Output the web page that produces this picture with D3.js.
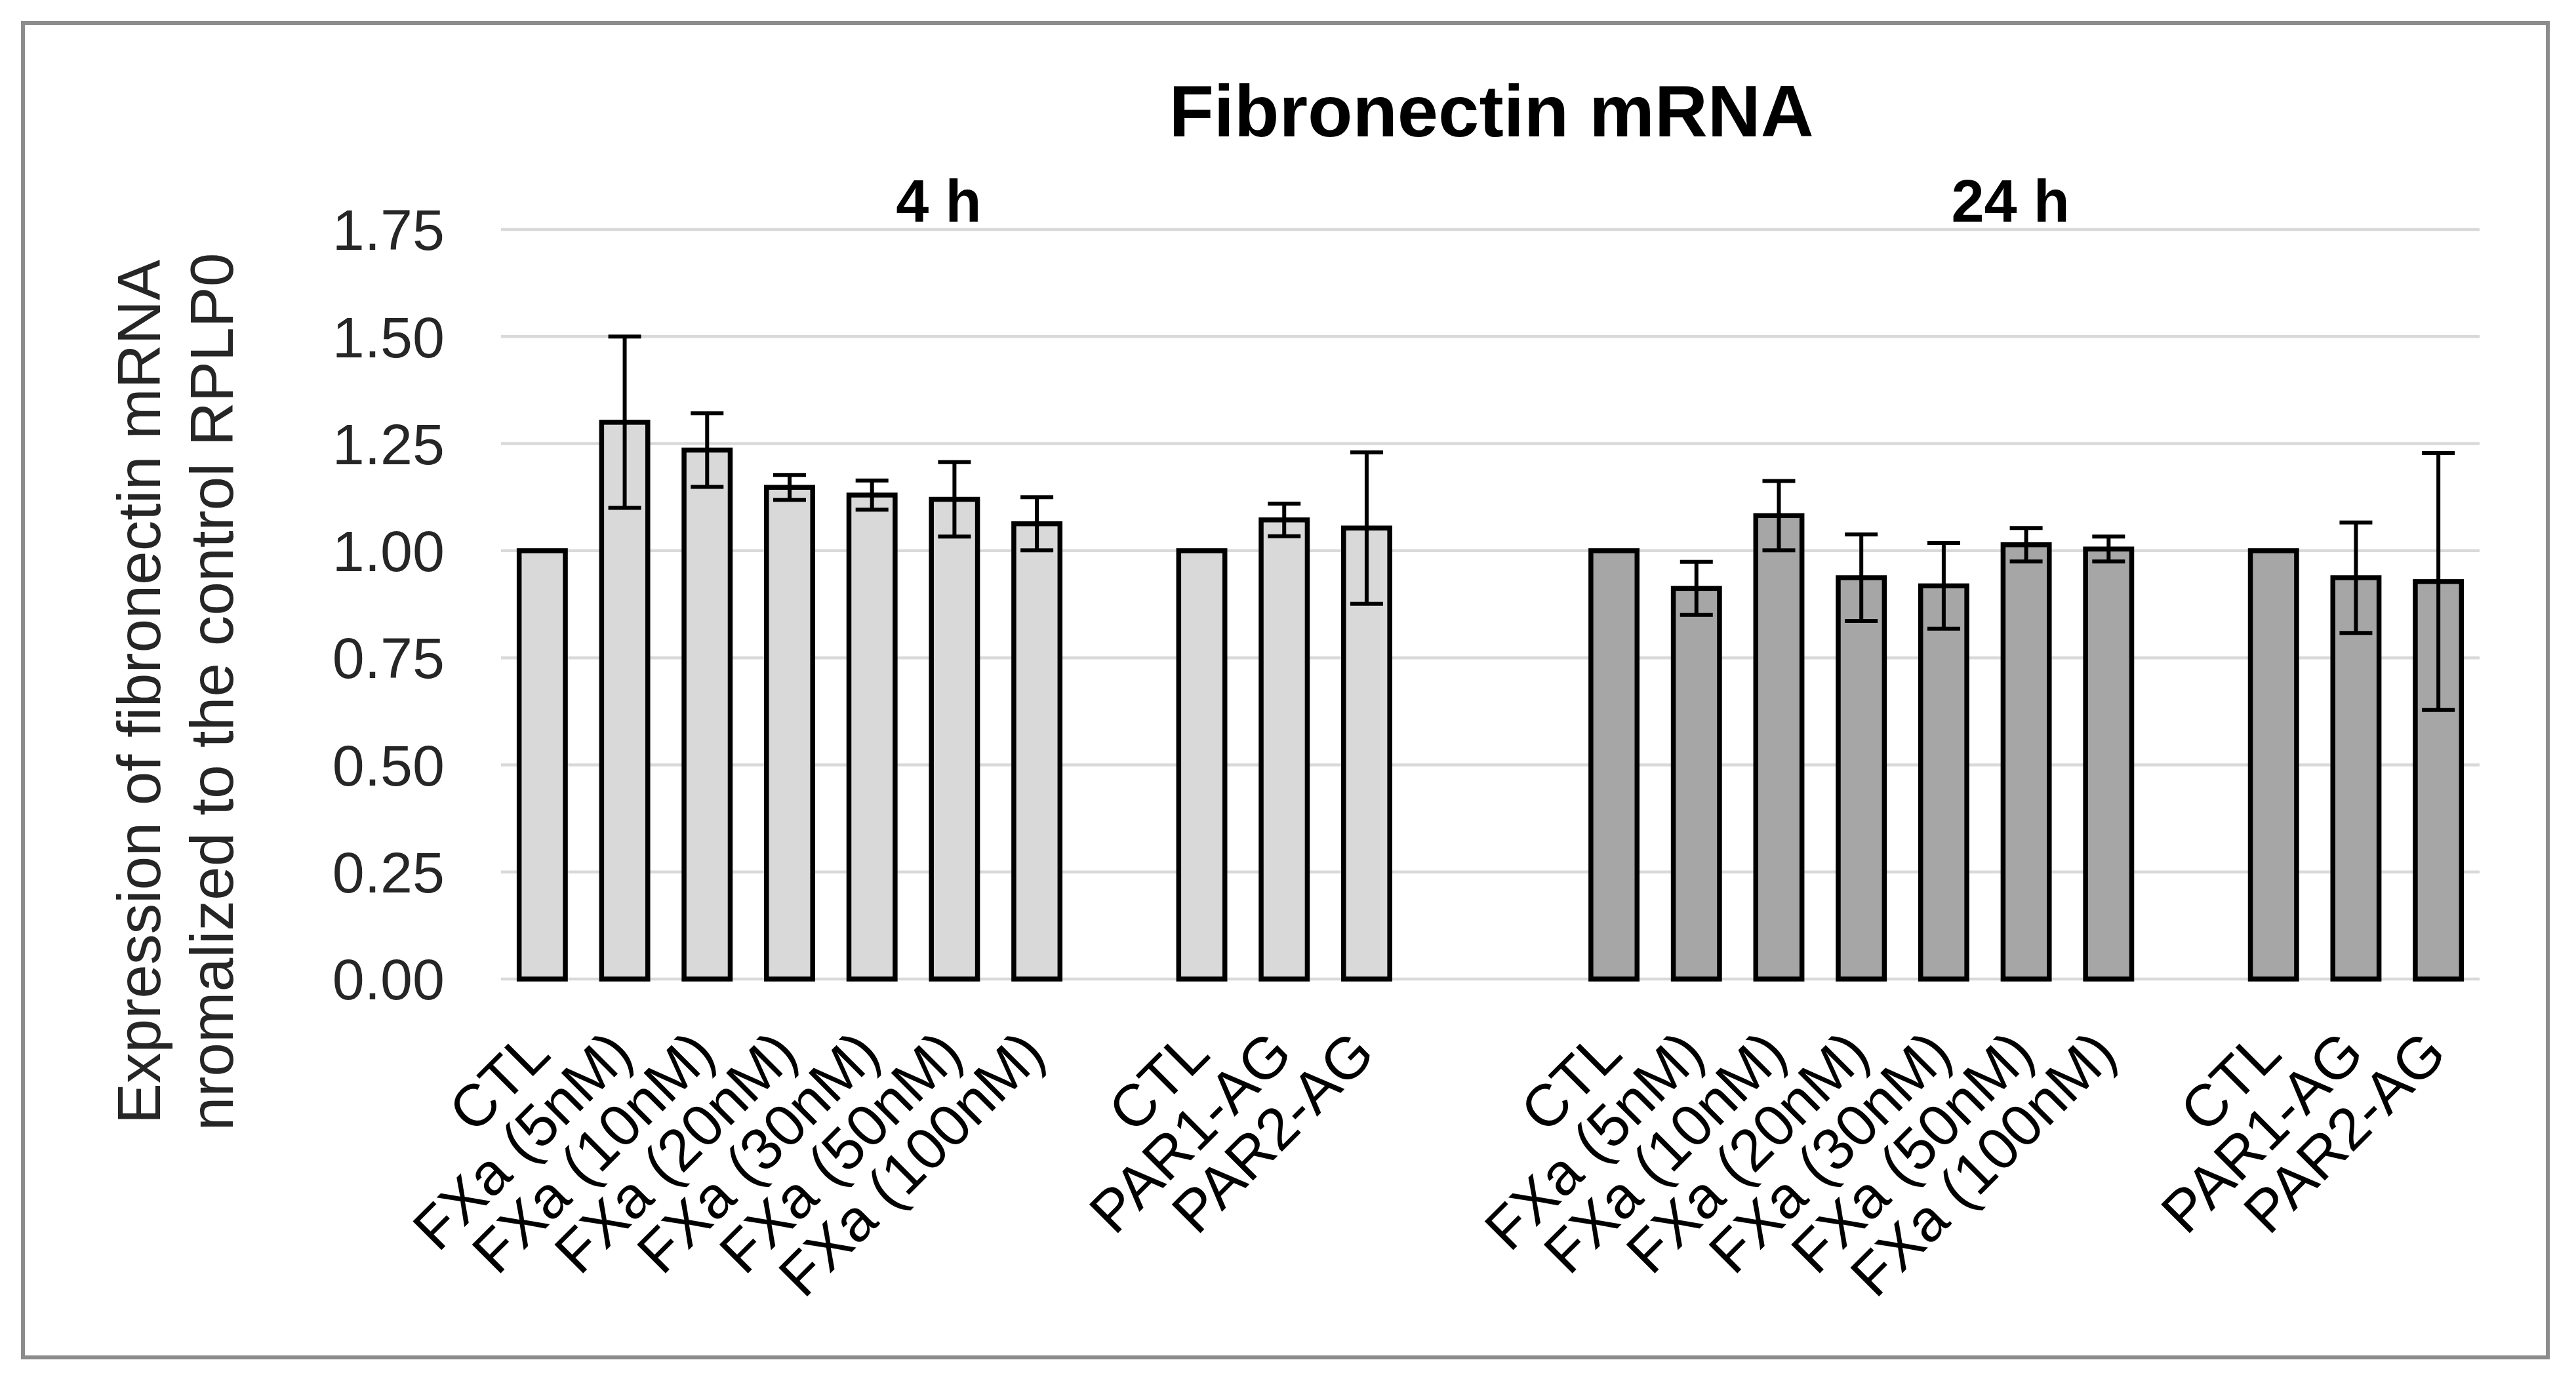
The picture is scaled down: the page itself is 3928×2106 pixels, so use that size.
<!DOCTYPE html>
<html>
<head>
<meta charset="utf-8">
<script src="https://cdn.jsdelivr.net/npm/d3@7"></script>
<style>
  html, body { margin: 0; padding: 0; background: #ffffff; }
  svg { display: block; }
  text { font-family: "Liberation Sans", Arial, sans-serif; }
</style>
</head>
<body>
<svg id="chart" width="3928" height="2106"></svg>
<script>
// ---------------- data ----------------
const chartTitle = "Fibronectin mRNA";
const groupNames = ["4 h", "24 h"];
const yAxisTitleLines = ["Expression of fibronectin mRNA", "nromalized to the control RPLP0"];

const labelsFXa = ["CTL", "FXa (5nM)", "FXa (10nM)", "FXa (20nM)", "FXa (30nM)", "FXa (50nM)", "FXa (100nM)"];
const labelsPAR = ["CTL", "PAR1-AG", "PAR2-AG"];

const values4hFXa = [1.00, 1.30, 1.235, 1.148, 1.130, 1.120, 1.063];
const errors4hFXa = [0, 0.200, 0.086, 0.029, 0.034, 0.087, 0.062];
const values4hPAR = [1.00, 1.072, 1.053];
const errors4hPAR = [0, 0.038, 0.177];

const values24hFXa = [1.00, 0.912, 1.082, 0.937, 0.918, 1.014, 1.004];
const errors24hFXa = [0, 0.062, 0.081, 0.101, 0.100, 0.039, 0.029];
const values24hPAR = [1.00, 0.937, 0.928];
const errors24hPAR = [0, 0.129, 0.300];

const yTicks = [0, 0.25, 0.5, 0.75, 1.0, 1.25, 1.5, 1.75];

// ---------------- build slot table ----------------
// each slot is one position on the category axis; gaps have no bar
const slots = [];
function addGroup(group, labels, values, errors, prefix) {
  labels.forEach((lab, i) => slots.push({ id: prefix + i, label: lab, value: values[i], err: errors[i], group }));
}
function addGap(id) { slots.push({ id, label: "", value: null, err: 0, group: null }); }

addGroup("4 h", labelsFXa, values4hFXa, errors4hFXa, "4f");
addGap("g1");
addGroup("4 h", labelsPAR, values4hPAR, errors4hPAR, "4p");
addGap("g2"); addGap("g3");
addGroup("24 h", labelsFXa, values24hFXa, errors24hFXa, "24f");
addGap("g4");
addGroup("24 h", labelsPAR, values24hPAR, errors24hPAR, "24p");

const fills = { "4 h": "#d9d9d9", "24 h": "#a6a6a6" };

// ---------------- layout ----------------
const svg = d3.select("#chart");
const W = 3928, H = 2106;
const plot = { left: 764, right: 3781, top: 350, bottom: 1493 };

svg.append("rect").attr("width", W).attr("height", H).attr("fill", "#fff");

// outer frame
svg.append("rect")
  .attr("x", 35).attr("y", 35)
  .attr("width", 3885 - 35).attr("height", 2070 - 35)
  .attr("fill", "none").attr("stroke", "#8c8c8c").attr("stroke-width", 6);

const x = d3.scaleBand()
  .domain(slots.map(d => d.id))
  .range([plot.left, plot.right])
  .paddingInner(0.44)
  .paddingOuter(0.22);

const y = d3.scaleLinear().domain([0, 1.75]).range([plot.bottom, plot.top]);

// gridlines
svg.append("g").selectAll("line").data(yTicks).join("line")
  .attr("x1", plot.left).attr("x2", plot.right)
  .attr("y1", d => y(d)).attr("y2", d => y(d))
  .attr("stroke", "#d9d9d9").attr("stroke-width", 4.5);

// y axis tick labels
const yAxis = d3.axisLeft(y).tickValues(yTicks).tickFormat(d3.format(".2f")).tickSize(0).tickPadding(0);
const yg = svg.append("g").attr("transform", `translate(678,0)`).call(yAxis);
yg.select(".domain").remove();
yg.selectAll("text")
  .attr("font-size", 88)
  .attr("fill", "#262626")
  .attr("dy", "0.35em")
  .style("font-family", "'Liberation Sans', Arial, sans-serif");

// bars
const barSlots = slots.filter(d => d.value !== null);
svg.append("g").selectAll("rect").data(barSlots).join("rect")
  .attr("x", d => x(d.id))
  .attr("y", d => y(d.value))
  .attr("width", x.bandwidth())
  .attr("height", d => y(0) - y(d.value))
  .attr("fill", d => fills[d.group])
  .attr("stroke", "#000")
  .attr("stroke-width", 7.5);

// error bars
const errSlots = barSlots.filter(d => d.err > 0);
const eg = svg.append("g").attr("stroke", "#000").attr("stroke-width", 6);
const capHalf = 25;
errSlots.forEach(d => {
  const cx = x(d.id) + x.bandwidth() / 2;
  const yt = y(d.value + d.err), yb = y(d.value - d.err);
  eg.append("line").attr("x1", cx).attr("x2", cx).attr("y1", yt).attr("y2", yb);
  eg.append("line").attr("x1", cx - capHalf).attr("x2", cx + capHalf).attr("y1", yt).attr("y2", yt);
  eg.append("line").attr("x1", cx - capHalf).attr("x2", cx + capHalf).attr("y1", yb).attr("y2", yb);
});

// x category labels (rotated)
svg.append("g").selectAll("text").data(barSlots).join("text")
  .attr("transform", d => `translate(${x(d.id) + x.bandwidth() / 2 + 16},${plot.bottom + 118}) rotate(-45)`)
  .attr("text-anchor", "end")
  .attr("font-size", 90)
  .attr("fill", "#000")
  .text(d => d.label);

// group labels
groupNames.forEach(g => {
  const ids = slots.filter(d => d.group === g).map(d => d.id);
  const c0 = x(ids[0]) + x.bandwidth() / 2;
  const c1 = x(ids[ids.length - 1]) + x.bandwidth() / 2;
  svg.append("text")
    .attr("x", (c0 + c1) / 2 - 24)
    .attr("y", 338)
    .attr("text-anchor", "middle")
    .attr("font-size", 90)
    .attr("font-weight", "bold")
    .attr("fill", "#000")
    .text(g);
});

// chart title
svg.append("text")
  .attr("x", 2274).attr("y", 208)
  .attr("text-anchor", "middle")
  .attr("font-size", 112)
  .attr("font-weight", "bold")
  .attr("fill", "#000")
  .text(chartTitle);

// y axis title (two lines, rotated)
const yt = svg.append("text")
  .attr("transform", `translate(0,1055) rotate(-90)`)
  .attr("text-anchor", "middle")
  .attr("font-size", 93)
  .attr("fill", "#262626");
yAxisTitleLines.forEach((line, i) => {
  yt.append("tspan").attr("x", 0).attr("y", 244 + i * 111).text(line);
});
</script>
</body>
</html>
